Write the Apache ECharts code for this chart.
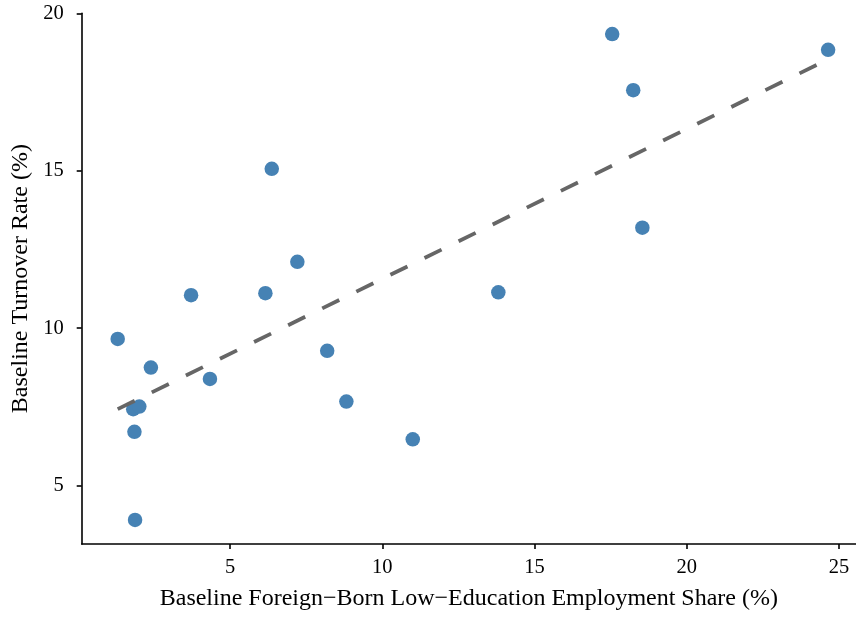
<!DOCTYPE html>
<html>
<head>
<meta charset="utf-8">
<script src="https://cdn.jsdelivr.net/npm/echarts@6/dist/echarts.min.js"></script>
<style>
html,body{margin:0;padding:0;background:#fff;}
#chart{width:856px;height:617px;}
</style>
</head>
<body>
<div id="chart"></div>
<script>
// Data
const shareX = [1.31, 1.82, 2.02, 1.86, 1.88, 2.40, 3.72, 4.34, 6.16, 6.37, 7.21, 8.19, 8.82, 11.00, 13.81, 17.55, 18.24, 18.54, 24.64];
const turnoverY = [9.66, 7.43, 7.51, 6.71, 3.91, 8.75, 11.05, 8.39, 11.11, 15.06, 12.11, 9.28, 7.67, 6.47, 11.14, 19.34, 17.56, 13.19, 18.84];
const fitX = [1.31, 24.64];
const fitY = [7.43, 18.54];
const xTicks = [5, 10, 15, 20, 25];
const yTicks = [5, 10, 15, 20];

const points = shareX.map((x, i) => [x, turnoverY[i]]);
const fit = fitX.map((x, i) => [x, fitY[i]]);

const font = 'Liberation Serif';
const chart = echarts.init(document.getElementById('chart'), null, {renderer: 'canvas'});
chart.setOption({
  animation: false,
  backgroundColor: '#ffffff',
  grid: {left: 81.7, right: 0, top: 13.3, bottom: 73, containLabel: false},
  xAxis: {
    type: 'value',
    min: 0.128,
    max: 25.556,
    name: 'Baseline Foreign\u2212Born Low\u2212Education Employment Share (%)',
    nameLocation: 'middle',
    nameGap: 43,
    nameTextStyle: {fontFamily: font, fontSize: 24, color: '#000'},
    axisLine: {show: true, onZero: false, lineStyle: {color: '#000', width: 1.6}},
    axisTick: {show: true, length: 5, customValues: xTicks, lineStyle: {color: '#000', width: 1.6}},
    axisLabel: {customValues: xTicks, fontFamily: font, fontSize: 20.5, color: '#000', margin: 13},
    splitLine: {show: false}
  },
  yAxis: {
    type: 'value',
    min: 3.147,
    max: 20,
    name: 'Baseline Turnover Rate (%)',
    nameLocation: 'middle',
    nameGap: 43,
    nameTextStyle: {fontFamily: font, fontSize: 24, color: '#000'},
    axisLine: {show: true, onZero: false, lineStyle: {color: '#000', width: 1.6}},
    axisTick: {show: true, length: 5, customValues: yTicks, lineStyle: {color: '#000', width: 1.6}},
    axisLabel: {customValues: yTicks, fontFamily: font, fontSize: 20.5, color: '#000', margin: 18},
    splitLine: {show: false}
  },
  series: [
    {
      type: 'scatter',
      data: points,
      symbol: 'circle',
      symbolSize: 14.5,
      itemStyle: {color: '#4682B4', opacity: 1},
      z: 2
    },
    {
      type: 'line',
      data: fit,
      symbol: 'none',
      lineStyle: {color: '#666666', width: 3.8, type: [19, 19], cap: 'butt'},
      z: 3
    }
  ]
});
</script>
</body>
</html>
